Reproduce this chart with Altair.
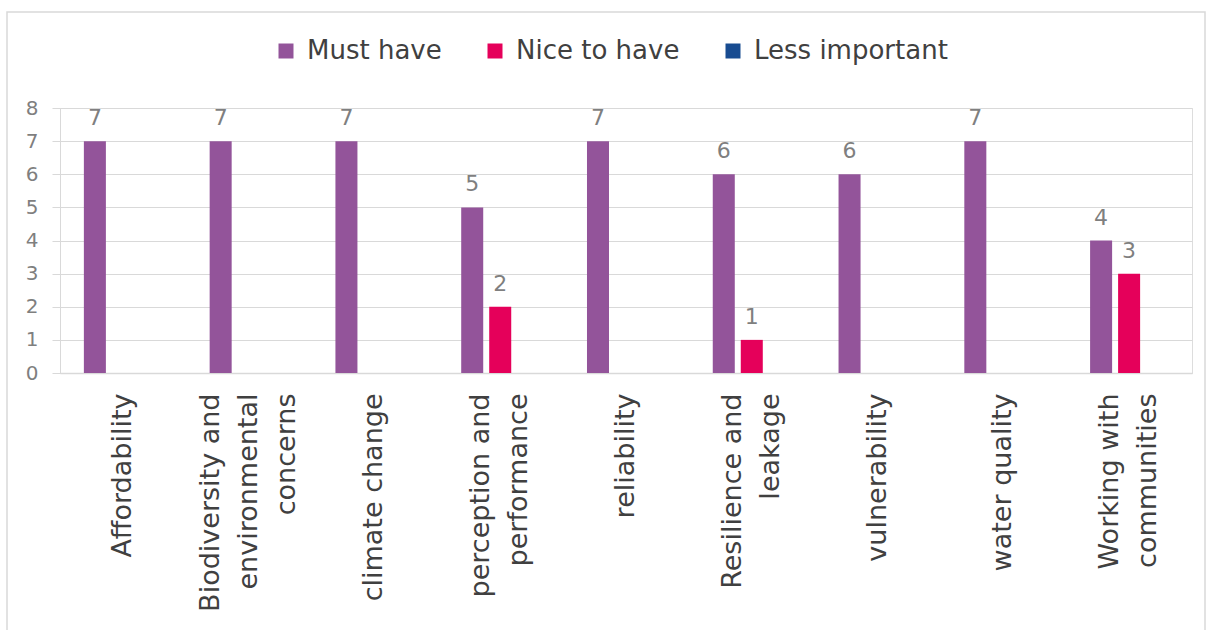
import json
import altair as alt
import pandas as pd

categories = ["Affordability", "Biodiversity and environmental concerns", "climate change",
              "perception and performance", "reliability", "Resilience and leakage",
              "vulnerability", "water quality", "Working with communities"]
label_lines = [["Affordability"], ["Biodiversity and", "environmental", "concerns"],
               ["climate change"], ["perception and", "performance"], ["reliability"],
               ["Resilience and", "leakage"], ["vulnerability"], ["water quality"],
               ["Working with", "communities"]]
series = ["Must have", "Nice to have", "Less important"]
must_have = [7, 7, 7, 5, 7, 6, 6, 7, 4]
nice_to_have = [0, 0, 0, 2, 0, 1, 0, 0, 3]
less_important = [0, 0, 0, 0, 0, 0, 0, 0, 0]
y_ticks = [0, 1, 2, 3, 4, 5, 6, 7, 8]
colors = ["#93549A", "#E5005A", "#184C91"]

rows = []
for s, vals in zip(series, [must_have, nice_to_have, less_important]):
    for c, v in zip(categories, vals):
        rows.append({"category": c, "series": s, "value": v})
df = pd.DataFrame(rows)

label_map = json.dumps(dict(zip(categories, label_lines)))
FONT = "DejaVu Sans"
LINE_H = 38

three = [c for c, l in zip(categories, label_lines) if len(l) == 3]
two = [c for c, l in zip(categories, label_lines) if len(l) == 2]
label_offset = {
    "condition": [
        {"test": f"indexof({json.dumps(three)}, datum.value) >= 0", "value": -LINE_H},
        {"test": f"indexof({json.dumps(two)}, datum.value) >= 0", "value": -LINE_H / 2},
    ],
    "value": 0,
}

x_enc = alt.X("category:N", sort=categories,
              scale=alt.Scale(paddingInner=0.332, paddingOuter=0.166),
              axis=alt.Axis(title=None, labelAngle=-90, labelAlign="right", labelBaseline="middle",
                            labelPadding=20, labelFontSize=27, labelLineHeight=LINE_H,
                            labelColor="#404040", labelLimit=400, ticks=False,
                            labelOffset=label_offset,
                            domainColor="#d9d9d9", domainWidth=1.5,
                            labelExpr=f"{label_map}[datum.label]", labelFont=FONT))
xoff_enc = alt.XOffset("series:N", sort=series,
                       scale=alt.Scale(domain=series, paddingInner=0.214, paddingOuter=0.107))
y_enc = alt.Y("value:Q", scale=alt.Scale(domain=[0, 8]),
              axis=alt.Axis(title=None, values=y_ticks, tickCount=20, format="d",
                            labelOverlap=False, tickSize=8, tickColor="#d9d9d9",
                            labelPadding=14, labelFontSize=20, labelColor="#7f7f7f",
                            gridColor="#d9d9d9", domainColor="#d9d9d9", labelFont=FONT))

bars = alt.Chart(df).mark_bar().encode(
    x=x_enc, xOffset=xoff_enc, y=y_enc,
    color=alt.Color("series:N", sort=series, scale=alt.Scale(domain=series, range=colors),
                    legend=alt.Legend(title=None, orient="none", legendX=213, legendY=-70,
                                      direction="horizontal", symbolType="square",
                                      symbolSize=225, symbolStrokeWidth=0,
                                      labelFontSize=26, labelColor="#404040", labelLimit=400,
                                      labelFont=FONT, columnPadding=40, labelOffset=8))
)

texts = alt.Chart(df).transform_filter("datum.value > 0").mark_text(
    baseline="bottom", dy=-11, fontSize=22, color="#7f7f7f", font=FONT
).encode(x=x_enc, xOffset=xoff_enc, y=y_enc, text="value:Q")

frame = alt.Chart(pd.DataFrame({"a": [0]})).mark_rect(
    fill=None, stroke="#d9d9d9", strokeWidth=1.5
).encode(x=alt.value(-53), x2=alt.value(1145), y=alt.value(-96), y2=alt.value(560))

chart = alt.layer(frame, bars, texts).properties(
    width=1132, height=265,
    autosize=alt.AutoSizeParams(type="none"),
    padding={"left": 60, "top": 108, "right": 21, "bottom": 257},
).configure_view(stroke=None).configure(background="white")

chart.save("out.html", embed_options={"renderer": "svg", "actions": False})
